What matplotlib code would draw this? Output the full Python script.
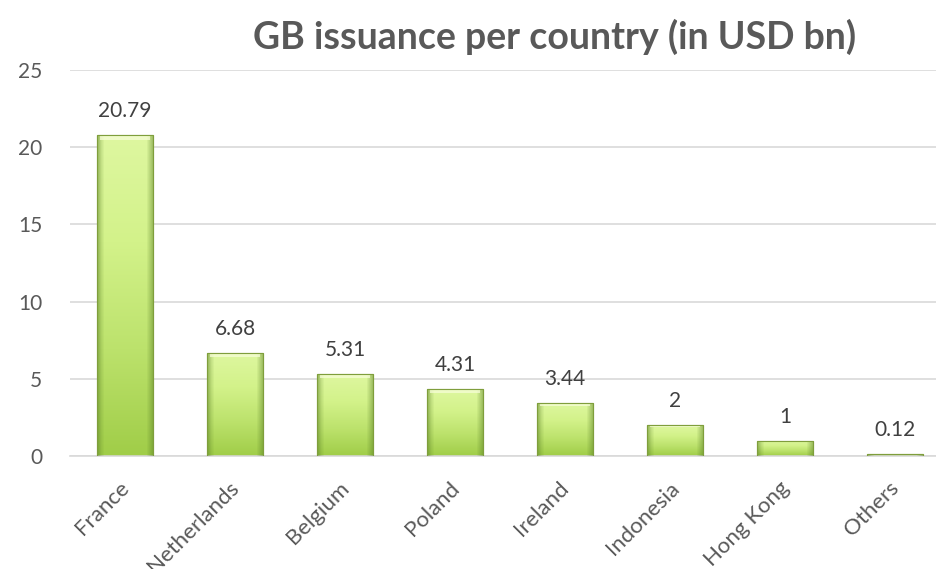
import matplotlib
matplotlib.use("Agg")
import matplotlib.pyplot as plt
import numpy as np
from matplotlib.colors import LinearSegmentedColormap
from matplotlib.transforms import offset_copy

categories = ["France", "Netherlands", "Belgium", "Poland", "Ireland", "Indonesia", "Hong Kong", "Others"]
values = [20.79, 6.68, 5.31, 4.31, 3.44, 2, 1, 0.12]
labels = ["20.79", "6.68", "5.31", "4.31", "3.44", "2", "1", "0.12"]
yticks = [0, 5, 10, 15, 20, 25]

plt.rcParams['font.family'] = ['Lato', 'DejaVu Sans']

fig = plt.figure(figsize=(9.37, 5.69), dpi=100)
ax = fig.add_axes([70 / 937, 1 - 456 / 569, 880 / 937, (456 - 70) / 569])

x = np.arange(len(categories))
bars = ax.bar(x, values, width=0.51, color="#c6e57a", edgecolor="#8fb04a", linewidth=0.8, zorder=2)

cmap = LinearSegmentedColormap.from_list("g", ["#a0cd48", "#bce26c", "#d3f28a", "#def7a0"])
grad = np.linspace(0, 1, 256).reshape(-1, 1)
side = np.array([[0.0, 0.6, 1, 1, 1, 1, 1, 1, 1, 1, 1, 1, 1, 1, 1, 1, 1, 0.5, 0.0]])
for b in bars:
    x0, y0 = b.get_x(), b.get_y()
    w, h = b.get_width(), b.get_height()
    im = ax.imshow(grad, extent=[x0, x0 + w, y0, y0 + h], origin="lower",
                   cmap=cmap, aspect="auto", zorder=2.5)
    im.set_clip_path(b)
    # darker bevel sides
    shade = np.zeros((1, side.shape[1], 4))
    shade[..., 0] = 0.35
    shade[..., 1] = 0.5
    shade[..., 2] = 0.15
    shade[..., 3] = (1 - side) * 0.45
    im2 = ax.imshow(shade, extent=[x0, x0 + w, y0, y0 + h], origin="lower",
                    aspect="auto", zorder=2.55, interpolation="bilinear")
    im2.set_clip_path(b)
    # bevel highlight at top
    hh = min(h * 0.05, 0.3)
    ax.bar(x0 + w / 2, hh, bottom=y0 + h - hh, width=w * 0.9,
           color="#f6fdd6", alpha=0.75, linewidth=0, zorder=2.6)
    ax.bar(x0 + w / 2, h, bottom=y0, width=w, fill=False, edgecolor="#7f9e3c", linewidth=0.8, zorder=2.7)

for xi, v, lab in zip(x, values, labels):
    ax.annotate(lab, (xi, v), xytext=(0, 13), textcoords="offset points",
                ha="center", va="baseline", fontsize=15, color="#404040")

ax.set_xlim(-0.5, len(categories) - 0.5)
ax.set_ylim(0, 25)
ax.set_yticks(yticks)
ax.set_yticklabels([str(t) for t in yticks], fontsize=15, color="#595959")
ax.set_xticks(x)
ax.set_xticklabels(categories, rotation=45, ha="right", rotation_mode="anchor", fontsize=16, color="#595959")
ax.tick_params(axis="both", length=0)
ax.tick_params(axis="x", pad=10)
ax.tick_params(axis="y", pad=20)
for t in ax.get_xticklabels():
    t.set_transform(offset_copy(t.get_transform(), fig=fig, x=-6, y=-8, units="dots"))

ax.grid(axis="y", color="#d9d9d9", linewidth=1.2, zorder=0)
ax.set_axisbelow(True)
for s in ["top", "right", "left"]:
    ax.spines[s].set_visible(False)
ax.spines["bottom"].set_color("#d9d9d9")
ax.spines["bottom"].set_linewidth(1.2)

fig.text(555 / 937, 1 - 37 / 569, "GB issuance per country (in USD bn)", ha="center", va="center",
         fontsize=27, fontweight="bold", color="#595959")

fig.savefig("out.png", dpi=100)
